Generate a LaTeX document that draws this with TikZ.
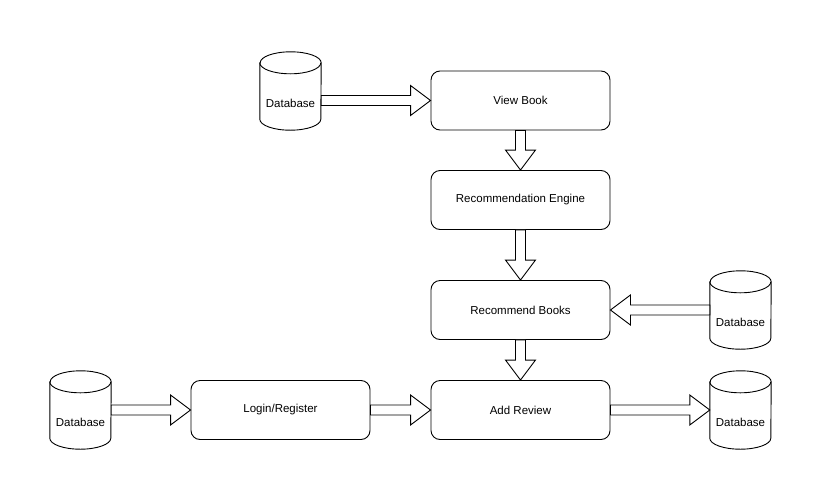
\documentclass[tikz,border=0pt]{standalone}
\usepackage{fontspec}
\setmainfont{Liberation Sans}
\usetikzlibrary{calc}

\tikzset{
  procbox/.style={draw,rounded corners=9pt,minimum width=179pt,minimum height=59pt,line width=0.9pt},
  dbstore/.style={inner sep=0pt,minimum width=61pt,minimum height=78pt,
                  label={[yshift=-12pt]center:Database}},
  dbline/.style={draw,line width=0.9pt},
  blockarrow/.style={draw,fill=white,line width=0.9pt,line join=miter}
}

% cylinder outline round data store #1
\newcommand{\dbcyl}[1]{%
  \draw[dbline] ([yshift=-11pt]#1.north west) -- ([yshift=11pt]#1.south west)
    arc[start angle=180,end angle=360,x radius=30.5pt,y radius=11pt]
    -- ([yshift=-11pt]#1.north east)
    arc[start angle=0,end angle=180,x radius=30.5pt,y radius=11pt] -- cycle;
  \draw[dbline] ([yshift=-11pt]#1.north west)
    arc[start angle=180,end angle=360,x radius=30.5pt,y radius=11pt];}

% hollow block arrow from #1 to #2
\newcommand{\fatarrow}[2]{%
  \coordinate (fa-h) at ($(#2)!20pt!(#1)$);
  \draw[blockarrow] ($(#1)!5pt!-90:(#2)$) -- ($(fa-h)!5pt!90:(#1)$) -- ($(fa-h)!15pt!90:(#1)$)
    -- (#2) -- ($(fa-h)!15pt!-90:(#1)$) -- ($(fa-h)!5pt!-90:(#1)$) -- ($(#1)!5pt!90:(#2)$) -- cycle;}

\begin{document}
\begin{tikzpicture}[x=1pt,y=-1pt,font=\fontsize{11.5}{13}\selectfont]
  \useasboundingbox (0,0) rectangle (821,501);

  % process steps
  \node[procbox] (view)     at (520.5,100.5) {View Book};
  \node[procbox] (engine)   at (520.5,200)   {Recommendation Engine};
  \node[procbox] (recbooks) at (520.5,310)   {Recommend Books};
  \node[procbox] (review)   at (520.5,410)   {Add Review};
  \node[procbox] (login)    at (280.5,410)   {Login/Register};

  % data stores
  \node[dbstore] (dbview)   at (290.5,91)  {};
  \node[dbstore] (dbrec)    at (740.5,310) {};
  \node[dbstore] (dblogin)  at (80.5,410)  {};
  \node[dbstore] (dbreview) at (740.5,410) {};
  \foreach \db in {dbview,dbrec,dblogin,dbreview}
    \dbcyl{\db};

  \coordinate (dbviewout) at (view.west -| dbview.east);

  % flows
  \fatarrow{dbviewout}{view.west}
  \fatarrow{view.south}{engine.north}
  \fatarrow{engine.south}{recbooks.north}
  \fatarrow{dbrec.west}{recbooks.east}
  \fatarrow{recbooks.south}{review.north}
  \fatarrow{dblogin.east}{login.west}
  \fatarrow{login.east}{review.west}
  \fatarrow{review.east}{dbreview.west}
\end{tikzpicture}
\end{document}
